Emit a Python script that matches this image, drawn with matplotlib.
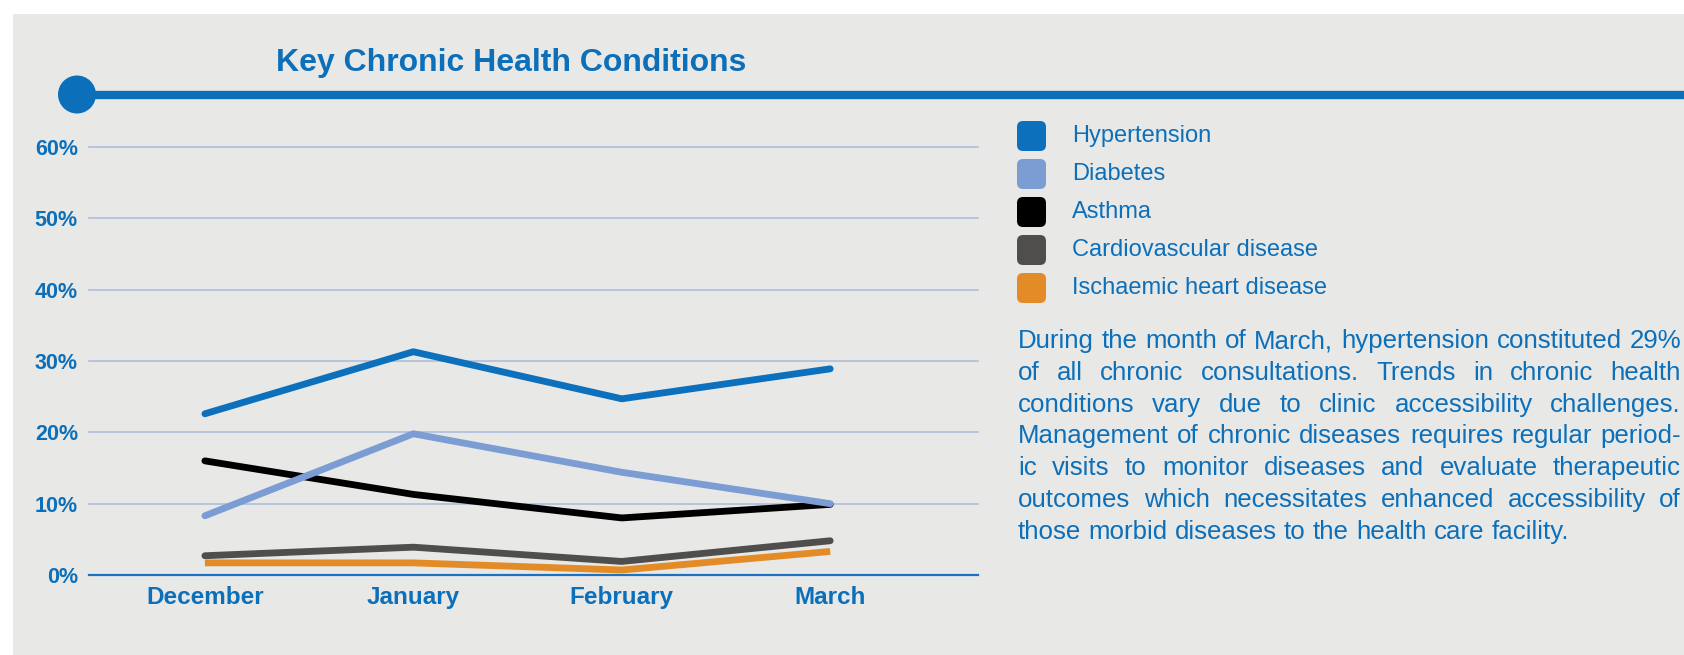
import matplotlib
matplotlib.use("Agg")
import matplotlib.pyplot as plt
from matplotlib.patches import Rectangle, Circle, FancyBboxPatch

W, H = 1684, 655

# data (percent of chronic consultations)
months = ["December", "January", "February", "March"]
series = ["Hypertension", "Diabetes", "Asthma", "Cardiovascular disease", "Ischaemic heart disease"]
hypertension = [22.6, 31.3, 24.7, 28.9]
diabetes = [8.3, 19.8, 14.4, 10.0]
asthma = [16.0, 11.3, 8.0, 9.9]
cardiovascular = [2.7, 3.9, 1.9, 4.8]
ischaemic = [1.7, 1.7, 0.7, 3.3]
colors = ["#0c70bd", "#7b9dd4", "#000000", "#4f4e4c", "#e38b26"]
y_ticks = [0, 10, 20, 30, 40, 50, 60]

note_lines = [
    "During the month of March, hypertension constituted 29%",
    "of all chronic consultations. Trends in chronic health",
    "conditions vary due to clinic accessibility challenges.",
    "Management of chronic diseases requires regular period-",
    "ic visits to monitor diseases and evaluate therapeutic",
    "outcomes which necessitates enhanced accessibility of",
    "those morbid diseases to the health care facility.",
]

BLUE = "#0c6fba"
BG = "#e8e8e6"
GRID = "#a9badb"

plt.rcParams["font.family"] = ["Liberation Sans", "DejaVu Sans"]

fig = plt.figure(figsize=(W / 100, H / 100), dpi=100)
fig.patch.set_facecolor("white")

# full-figure layer in pixel units (y down) for background, header, legend, note
bg = fig.add_axes([0, 0, 1, 1], zorder=0)
bg.set_xlim(0, W)
bg.set_ylim(H, 0)
bg.axis("off")
bg.add_patch(Rectangle((13, 14), W, H, color=BG, lw=0))
bg.plot([77, W], [95, 95], color=BLUE, lw=6.0, solid_capstyle="butt")
bg.add_patch(Circle((77, 94.5), 19, color=BLUE, lw=0))
bg.text(511, 63, "Key Chronic Health Conditions", color=BLUE, fontsize=23,
        fontweight="bold", ha="center", va="center")

# legend
for i, (name, c) in enumerate(zip(series, colors)):
    yc = 136 + i * 38
    bg.add_patch(FancyBboxPatch((1022, yc - 10), 19, 20, boxstyle="round,pad=5,rounding_size=6",
                                fc=c, ec="none"))
    bg.text(1072, yc, name, color=BLUE, fontsize=17, ha="left", va="center")

# chart
ax = fig.add_axes([89 / W, 1 - 575 / H, (978 - 89) / W, (575 - 147) / H], zorder=1)
ax.set_facecolor("none")
x = list(range(len(months)))
all_series = [hypertension, diabetes, asthma, cardiovascular, ischaemic]
for vals, c, name in reversed(list(zip(all_series, colors, series))):
    cap = "butt" if name == "Ischaemic heart disease" else "round"
    ax.plot(x, vals, color=c, lw=4.9, solid_capstyle=cap, solid_joinstyle="round", zorder=3)

for v in y_ticks[1:]:
    ax.axhline(v, color=GRID, lw=1.1, zorder=1, clip_on=False)
ax.axhline(0, color="#1a72c0", lw=1.6, zorder=2, clip_on=False)

ax.set_xlim(-0.556, 3.709)
ax.set_ylim(0, 60)
ax.set_yticks(y_ticks)
ax.set_yticklabels([f"{v}%" for v in y_ticks])
ax.set_xticks(x)
ax.set_xticklabels(months)
ax.tick_params(axis="y", length=0, pad=8, labelsize=15.5, labelcolor=BLUE)
ax.tick_params(axis="x", length=0, pad=8, labelsize=17.5, labelcolor=BLUE)
for lab in ax.get_xticklabels() + ax.get_yticklabels():
    lab.set_fontweight("bold")
for s in ax.spines.values():
    s.set_visible(False)

# justified note text, word by word on a shared baseline
fig.canvas.draw()
r = fig.canvas.get_renderer()
x0, x1 = 1018, 1681
note_size = 18.6
space_w = note_size * 100 / 72 * 0.278
for i, line in enumerate(note_lines):
    yb = 348 + i * 31.8
    words = line.split()
    texts = [bg.text(0, yb, w, color=BLUE, fontsize=note_size, ha="left", va="baseline")
             for w in words]
    widths = [t.get_window_extent(r).width for t in texts]
    if i < len(note_lines) - 1:
        gap = (x1 - x0 - sum(widths)) / (len(words) - 1)
    else:
        gap = space_w
    xp = x0
    for t, w in zip(texts, widths):
        t.set_x(xp)
        xp += w + gap

fig.savefig("out.png", dpi=100, facecolor=fig.get_facecolor())
plt.close()
